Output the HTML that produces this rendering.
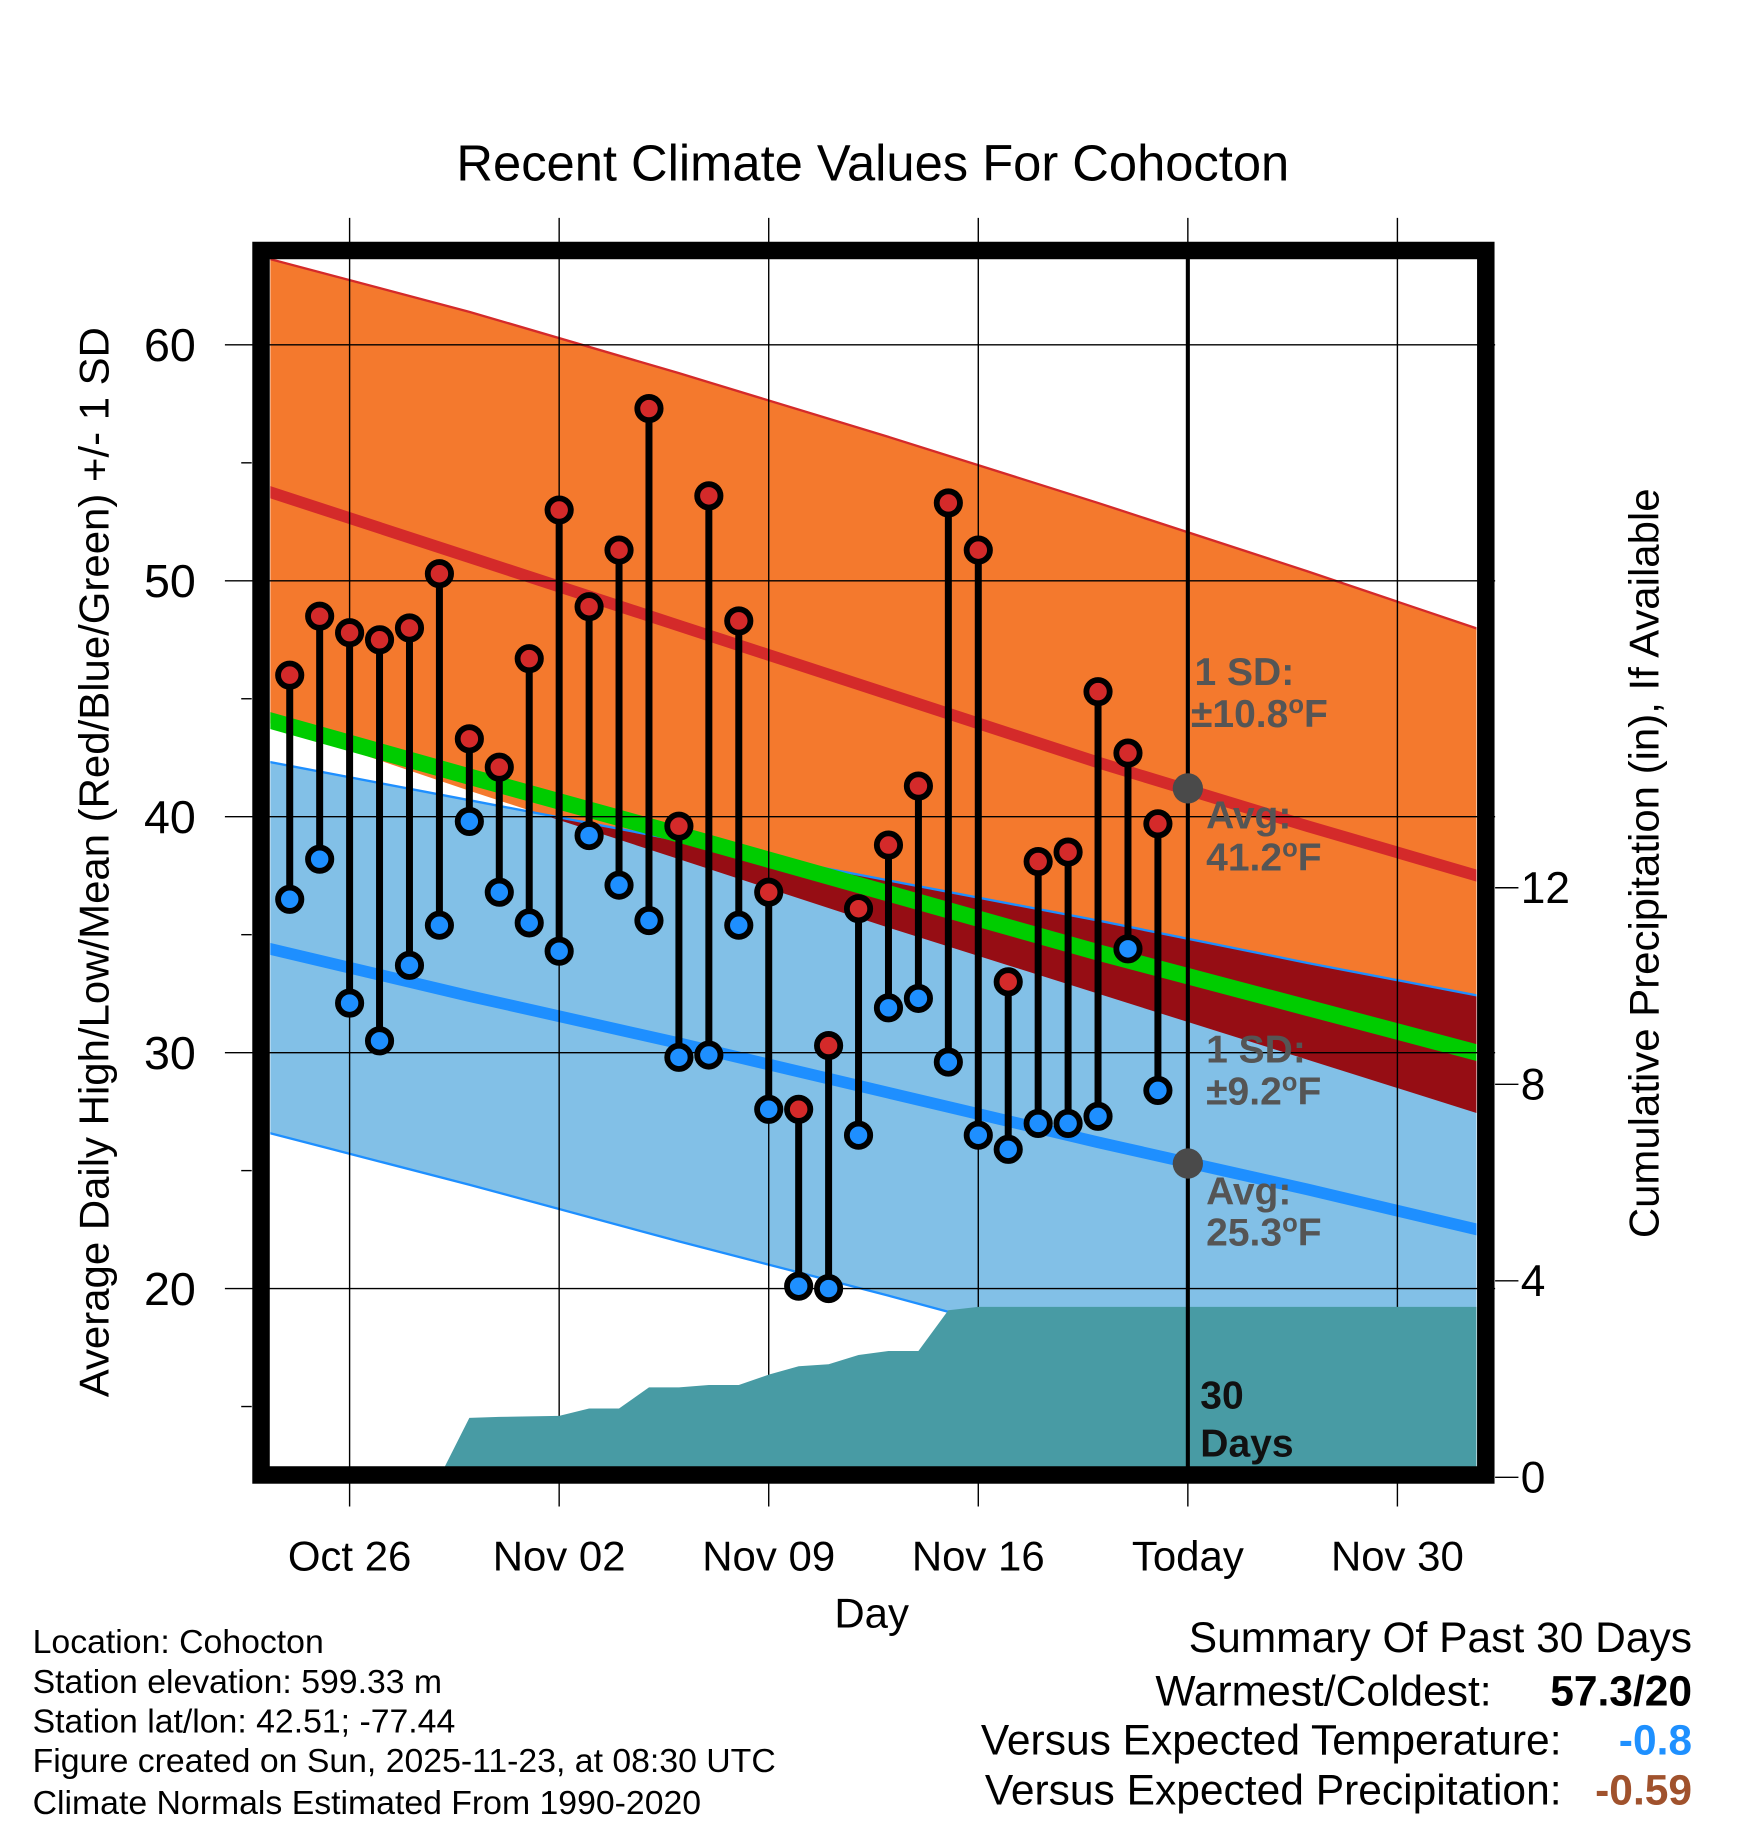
<!DOCTYPE html>
<html><head><meta charset="utf-8"><style>
html,body{margin:0;padding:0;background:#fff;}
svg{display:block;font-family:"Liberation Sans",Arial,sans-serif;}
</style></head><body>
<svg id="chart" width="1748" height="1828" viewBox="0 0 1500 1569" preserveAspectRatio="none" xmlns="http://www.w3.org/2000/svg">
<defs>
<clipPath id="plotClip"><rect x="232" y="222" width="1035" height="1037"/></clipPath>
<clipPath id="blueClip"><polygon id="blueClipPoly" points=""/></clipPath>
</defs>
<rect width="1500" height="1569" fill="#fff"/>
<text x="749" y="155" font-size="43.5" text-anchor="middle">Recent Climate Values For Cohocton</text>
<g id="bands" clip-path="url(#plotClip)"></g>
<g id="grid"></g>
<g id="precip" clip-path="url(#plotClip)"></g>
<g id="marks"></g>
<g id="annot" font-weight="bold" font-size="33.5" fill="#555">
<text x="1025" y="588">1 SD:</text>
<text x="1022" y="624">±10.8<tspan font-size="22" dy="-12">o</tspan><tspan dy="12">F</tspan></text>
<text x="1035" y="711">Avg:</text>
<text x="1035" y="747">41.2<tspan font-size="22" dy="-12">o</tspan><tspan dy="12">F</tspan></text>
<text x="1035" y="912">1 SD:</text>
<text x="1035" y="948">±9.2<tspan font-size="22" dy="-12">o</tspan><tspan dy="12">F</tspan></text>
<text x="1035" y="1034">Avg:</text>
<text x="1035" y="1069">25.3<tspan font-size="22" dy="-12">o</tspan><tspan dy="12">F</tspan></text>
<text x="1030" y="1209" fill="#111">30</text>
<text x="1030" y="1250" fill="#111">Days</text>
</g>
<rect x="224" y="215" width="1051" height="1051" fill="none" stroke="#000" stroke-width="15"/>
<g id="axes"></g>
<text transform="translate(93,740) rotate(-90)" font-size="36" text-anchor="middle">Average Daily High/Low/Mean (Red/Blue/Green) +/- 1 SD</text>
<text transform="translate(1423,741) rotate(-90)" font-size="36" text-anchor="middle">Cumulative Precipitation (in), If Available</text>
<text x="748" y="1397" font-size="36" text-anchor="middle">Day</text>
<g font-size="29">
<text x="28" y="1419">Location: Cohocton</text>
<text x="28" y="1453">Station elevation: 599.33 m</text>
<text x="28" y="1487">Station lat/lon: 42.51; -77.44</text>
<text x="28" y="1521">Figure created on Sun, 2025-11-23, at 08:30 UTC</text>
<text x="28" y="1557">Climate Normals Estimated From 1990-2020</text>
</g>
<g font-size="36.5">
<text x="1452" y="1418" text-anchor="end">Summary Of Past 30 Days</text>
<text x="1280" y="1464" text-anchor="end">Warmest/Coldest:</text>
<text x="1452" y="1464" text-anchor="end" font-weight="bold">57.3/20</text>
<text x="1340" y="1506" text-anchor="end">Versus Expected Temperature:</text>
<text x="1452" y="1506" text-anchor="end" font-weight="bold" fill="#1e90ff">-0.8</text>
<text x="1340" y="1549" text-anchor="end">Versus Expected Precipitation:</text>
<text x="1452" y="1549" text-anchor="end" font-weight="bold" fill="#a0522d">-0.59</text>
</g>
</svg>
<script>
var dayLabels = ["Oct 24","Oct 25","Oct 26","Oct 27","Oct 28","Oct 29","Oct 30","Oct 31","Nov 01","Nov 02","Nov 03","Nov 04","Nov 05","Nov 06","Nov 07","Nov 08","Nov 09","Nov 10","Nov 11","Nov 12","Nov 13","Nov 14","Nov 15","Nov 16","Nov 17","Nov 18","Nov 19","Nov 20","Nov 21","Nov 22"];
var firstDay = -2;
var highs = [46.0,48.5,47.8,47.5,48.0,50.3,43.3,42.1,46.7,53.0,48.9,51.3,57.3,39.6,53.6,48.3,36.8,27.6,30.3,36.1,38.8,41.3,53.3,51.3,33.0,38.1,38.5,45.3,42.7,39.7];
var lows = [36.5,38.2,32.1,30.5,33.7,35.4,39.8,36.8,35.5,34.3,39.2,37.1,35.6,29.8,29.9,35.4,27.6,20.1,20.0,26.5,31.9,32.3,29.6,26.5,25.9,27.0,27.0,27.3,34.4,28.4];
var precip = [0,0,0,0,0,0,1.21,1.23,1.24,1.25,1.40,1.40,1.83,1.83,1.88,1.88,2.09,2.26,2.30,2.49,2.57,2.57,3.40,3.47,3.47,3.47,3.47,3.47,3.47,3.47];
var normDays = [-3,4,11,18,25,32,39];
var normHigh = [53.9,51.0,48.1,45.2,42.3,39.6,37.0];
var highUpper = [63.75,61.4,58.8,56.1,53.3,50.4,47.4];
var highLower = [44.1,41.1,38.2,35.3,32.5,29.7,26.9];
var normLow = [34.5,32.4,30.4,28.3,26.2,24.2,22.1];
var lowUpper = [42.4,40.7,39.0,37.3,35.6,33.8,32.1];
var lowLower = [26.7,24.4,22.0,19.7,17.3,15.0,12.6];
var xTickDays = [0,7,14,21,28,35];
var xTickLabels = ["Oct 26","Nov 02","Nov 09","Nov 16","Today","Nov 30"];
var yTicks = [20,30,40,50,60];
var yMinor = [15,25,35,45,55];
var y2Ticks = [0,4,8,12];
var todayDay = 28;
var todayHigh = 41.2, todayLow = 25.3;

var NS = "http://www.w3.org/2000/svg";
function xs(d){ return 300 + d*25.69; }
function ys(v){ return 296 + (60 - v)*20.25; }
function y2s(v){ return 1268 - v*42.17; }
function mk(tag, attrs, parent){
  var e = document.createElementNS(NS, tag);
  for (var k in attrs) e.setAttribute(k, attrs[k]);
  parent.appendChild(e); return e;
}
function linePts(arr){ return normDays.map(function(d,i){ return xs(d)+","+ys(arr[i]); }); }
function bandPts(up, lo){
  var a = linePts(up), b = linePts(lo).reverse();
  return a.concat(b).join(" ");
}
var bands = document.getElementById("bands");
var e;
e = mk("polygon", {points: bandPts(highUpper, highLower), fill:"#f4792d"}, bands);


e = mk("polygon", {points: bandPts(lowUpper, lowLower), fill:"#82c0e7"}, bands);


document.getElementById("blueClipPoly").setAttribute("points", bandPts(lowUpper, lowLower));
var ov = mk("g", {"clip-path":"url(#blueClip)"}, bands);
e = mk("polygon", {points: bandPts(highUpper, highLower), fill:"#960d14"}, ov);


e = mk("polyline", {points: linePts(highUpper).join(" "), fill:"none", stroke:"#d42a2a", "stroke-width":2}, bands);


e = mk("polyline", {points: linePts(lowUpper).join(" "), fill:"none", stroke:"#1e8fff", "stroke-width":2}, bands);


e = mk("polyline", {points: linePts(lowLower).join(" "), fill:"none", stroke:"#1e8fff", "stroke-width":2}, bands);


var meanVals = normHigh.map(function(h,i){ return (h + normLow[i])/2; });
e = mk("polyline", {points: linePts(meanVals).join(" "), fill:"none", stroke:"#00cc00", "stroke-width":14}, bands);


e = mk("polyline", {points: linePts(normHigh).join(" "), fill:"none", stroke:"#d42a2a", "stroke-width":10}, bands);


e = mk("polyline", {points: linePts(normLow).join(" "), fill:"none", stroke:"#1e8fff", "stroke-width":10}, bands);



var grid = document.getElementById("grid");
xTickDays.forEach(function(d){
  var g = mk("line", {x1:xs(d), x2:xs(d), y1:187, y2:1293, stroke:"#000", "stroke-width":1.2}, grid);
  
  
});
yTicks.forEach(function(v){
  var g = mk("line", {x1:193, x2:1283, y1:ys(v), y2:ys(v), stroke:"#000", "stroke-width":1.2}, grid);
  
  
});

var pg = document.getElementById("precip");
var pp = [];
pp.push(xs(firstDay)+","+1300);
precip.forEach(function(v,i){ pp.push(xs(firstDay+i)+","+y2s(v)); });
pp.push("1280,"+y2s(precip[precip.length-1]));
pp.push("1280,1300");
e = mk("polygon", {points: pp.join(" "), fill:"#489ba4"}, pg);



var mg = document.getElementById("marks");
highs.forEach(function(h,i){
  var x = xs(firstDay+i);
  var l = mk("line", {x1:x, x2:x, y1:ys(h), y2:ys(lows[i]), stroke:"#000", "stroke-width":6}, mg);
  
  
});
e = mk("line", {x1:xs(todayDay), x2:xs(todayDay), y1:222, y2:1259, stroke:"#000", "stroke-width":3.5}, mg);


highs.forEach(function(h,i){
  var x = xs(firstDay+i);
  var c1 = mk("circle", {cx:x, cy:ys(h), r:10, fill:"#d42a2a", stroke:"#000", "stroke-width":5}, mg);
  
  
  var c2 = mk("circle", {cx:x, cy:ys(lows[i]), r:10, fill:"#1e8fff", stroke:"#000", "stroke-width":5}, mg);
  
  
});
e = mk("circle", {cx:xs(todayDay), cy:ys(todayHigh), r:13, fill:"#4a4a4a"}, mg);


e = mk("circle", {cx:xs(todayDay), cy:ys(todayLow), r:13, fill:"#4a4a4a"}, mg);



var ax = document.getElementById("axes");
yTicks.forEach(function(v){
  var t = mk("text", {x:168, y:ys(v)+14, "font-size":40, "text-anchor":"end"}, ax);
  t.textContent = v;
  
  
});
yMinor.forEach(function(v){
  var t = mk("line", {x1:207, x2:216, y1:ys(v), y2:ys(v), stroke:"#000", "stroke-width":1.2}, ax);
  
  
});
y2Ticks.forEach(function(v){
  var t = mk("line", {x1:1283, x2:1303, y1:y2s(v), y2:y2s(v), stroke:"#000", "stroke-width":1.2}, ax);
  
  
  var lb = mk("text", {x:1305, y:y2s(v)+13, "font-size":38}, ax);
  lb.textContent = v;
  
  
});
xTickDays.forEach(function(d,i){
  var t = mk("text", {x:xs(d), y:1348, "font-size":36, "text-anchor":"middle"}, ax);
  t.textContent = xTickLabels[i];
  
  
});
</script>
</body></html>
